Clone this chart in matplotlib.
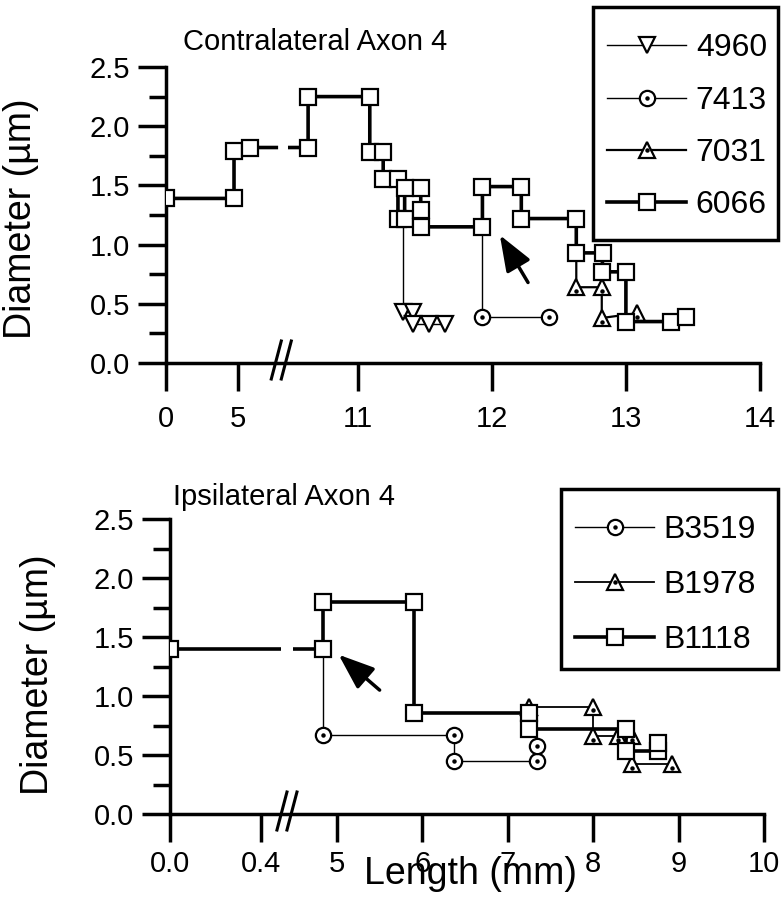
import numpy as np
import matplotlib
matplotlib.use("Agg")
import matplotlib.pyplot as plt
from matplotlib.lines import Line2D
from matplotlib.patches import Rectangle

plt.rcParams['font.family'] = ['Liberation Sans', 'DejaVu Sans']

# ---------------- data: contralateral axon 4 ----------------
C6066_X = [0.0, 4.72, 4.72, 5.83, 10.63, 10.63, 11.09, 11.09, 11.19, 11.19, 11.30, 11.30,
           11.35, 11.35, 11.47, 11.47, 11.47, 11.93, 11.93, 12.22, 12.22, 12.63, 12.63,
           12.83, 12.82, 13.00, 13.00, 13.34, 13.45]
C6066_Y = [1.39, 1.39, 1.79, 1.82, 1.82, 2.25, 2.25, 1.78, 1.78, 1.55, 1.55, 1.22,
           1.22, 1.48, 1.48, 1.29, 1.15, 1.15, 1.49, 1.49, 1.22, 1.22, 0.93,
           0.93, 0.77, 0.77, 0.35, 0.35, 0.39]
C4960_X = [11.34, 11.34, 11.41, 11.41, 11.53, 11.65]
C4960_Y = [1.22, 0.43, 0.43, 0.33, 0.33, 0.33]
C7413_X = [11.93, 11.93, 12.43]
C7413_Y = [1.15, 0.39, 0.39]
C7031_X = [12.63, 12.63, 12.82, 12.82, 13.08]
C7031_Y = [0.93, 0.64, 0.64, 0.38, 0.42]

TOP_XTICKS = [0, 5, 11, 12, 13, 14]
TOP_XTICKLABELS = ['0', '5', '11', '12', '13', '14']

# ---------------- data: ipsilateral axon 4 ----------------
B1118_X = [0.0, 4.84, 4.84, 5.90, 5.90, 7.25, 7.25, 8.38, 8.38, 8.76, 8.76]
B1118_Y = [1.40, 1.40, 1.80, 1.80, 0.86, 0.86, 0.72, 0.72, 0.53, 0.53, 0.60]
B3519_X = [4.84, 4.84, 6.37, 6.37, 7.34, 7.34]
B3519_Y = [1.40, 0.67, 0.67, 0.45, 0.45, 0.58]
B1978_X = [7.25, 8.00, 8.00, 8.29, 8.45, 8.45, 8.92]
B1978_Y = [0.91, 0.91, 0.66, 0.66, 0.66, 0.42, 0.42]

BOT_XTICKS = [0, 0.4, 5, 6, 7, 8, 9, 10]
BOT_XTICKLABELS = ['0.0', '0.4', '5', '6', '7', '8', '9', '10']

YTICKS = [0.0, 0.5, 1.0, 1.5, 2.0, 2.5]
YTICKLABELS = ['0.0', '0.5', '1.0', '1.5', '2.0', '2.5']

# ---------------- layout ----------------
W, H = 782, 900
fig = plt.figure(figsize=(W / 100, H / 100), dpi=100)


def axrect(l, r, t, b):
    return [l / W, 1 - b / H, (r - l) / W, (b - t) / H]


def break_scale(brk_lo, brk_hi, s_lo, s_hi):
    u_lo = brk_lo * s_lo
    xd = np.array([-100.0, 0.0, brk_lo, brk_hi, brk_hi + 100.0])
    xu = np.array([-100.0 * s_lo, 0.0, u_lo, u_lo + 1e-3, u_lo + 1e-3 + 100.0 * s_hi])

    def fwd(x):
        return np.interp(x, xd, xu)

    def inv(u):
        return np.interp(u, xu, xd)
    return fwd, inv


def with_gap(xs, ys, g_lo, g_hi):
    ox, oy = [xs[0]], [ys[0]]
    for i in range(1, len(xs)):
        if xs[i - 1] < g_lo and xs[i] > g_hi:
            ox += [g_lo, np.nan, g_hi]
            oy += [ys[i - 1], np.nan, ys[i]]
        ox.append(xs[i])
        oy.append(ys[i])
    return ox, oy


SPINE_LW = 2.5
TICK_FS = 21


def style_axes(ax, xticks, xlabels):
    for s in ['top', 'right']:
        ax.spines[s].set_visible(False)
    for s in ['left', 'bottom']:
        ax.spines[s].set_linewidth(SPINE_LW)
    ax.set_ylim(0, 2.5)
    ax.set_yticks(YTICKS)
    ax.set_yticklabels(YTICKLABELS)
    ax.set_yticks(np.arange(0.25, 2.5, 0.5), minor=True)
    ax.set_xticks(xticks)
    ax.set_xticklabels(xlabels)
    ax.tick_params(axis='y', which='major', direction='out', length=20, width=2.5,
                   labelsize=TICK_FS, pad=6)
    ax.tick_params(axis='y', which='minor', direction='out', length=12, width=2.5)
    ax.tick_params(axis='x', which='major', direction='out', length=20, width=2.5,
                   labelsize=TICK_FS, pad=10)
    ax.tick_params(axis='x', which='minor', bottom=False)


def draw_break(ax, xb):
    ax.figure.canvas.draw()
    px = ax.transData.transform((xb, 0))
    for dx in (-5, 5):
        xs = [px[0] + dx - 5, px[0] + dx + 5]
        ys = [px[1] - 16, px[1] + 22]
        fig.add_artist(Line2D(xs, ys, transform=None, color='black', lw=2.2))


MS_SQ = 11
MS_TRI = 12
MS_CIR = 11


def series(ax, xs, ys, marker, lw, ms, dot, skip_first, gap, z):
    lx, ly = with_gap(xs, ys, *gap)
    ax.plot(lx, ly, color='black', lw=lw, zorder=z, solid_capstyle='butt')
    mx, my = (xs[1:], ys[1:]) if skip_first else (xs, ys)
    ax.plot(mx, my, ls='none', marker=marker, ms=ms, mfc='white', mec='black',
            mew=1.6, zorder=z + 0.5)
    if dot:
        dy = 0.03 if marker == '^' else 0.0
        ax.plot(mx, np.array(my) - dy, ls='none', marker='o', ms=2.2, color='black',
                zorder=z + 0.6)


def legend_handle(marker, lw, ms, dot):
    h = Line2D([], [], color='black', lw=lw, marker=marker, ms=ms, mfc='white',
               mec='black', mew=1.6)
    if dot:
        d = Line2D([], [], ls='none', marker='o', ms=2.2, color='black')
        return (h, d)
    return h


def legend_box(l, r, t, b):
    fig.add_artist(Rectangle((l / W, 1 - b / H), (r - l) / W, (b - t) / H,
                             transform=fig.transFigure, fill=False, ec='black', lw=2.5))


LEG_KW = dict(loc='upper left', borderaxespad=0, fontsize=23, frameon=False,
              borderpad=0.45, handlelength=2.45, handletextpad=0.32, numpoints=1)

# ---------------- top panel ----------------
ax1 = fig.add_axes(axrect(166, 760, 67, 363))
fwd1, inv1 = break_scale(8.0, 10.43, 14.4, 134.0)
ax1.set_xscale('function', functions=(fwd1, inv1))
ax1.set_xlim(0, 14)
style_axes(ax1, TOP_XTICKS, TOP_XTICKLABELS)
gap1 = (7.78, 10.48)
series(ax1, C4960_X, C4960_Y, 'v', 1.0, MS_TRI, False, True, gap1, 3)
series(ax1, C7413_X, C7413_Y, 'o', 1.0, MS_CIR, True, True, gap1, 3)
series(ax1, C7031_X, C7031_Y, '^', 1.6, MS_TRI, True, True, gap1, 4)
series(ax1, C6066_X, C6066_Y, 's', 2.6, MS_SQ, False, False, gap1, 5)
ax1.annotate('', xy=(12.06, 1.08), xytext=(12.27, 0.68),
             arrowprops=dict(arrowstyle='-|>,head_length=1.0,head_width=0.38',
                             color='black', lw=2.5, mutation_scale=22, shrinkA=0, shrinkB=0))
fig.text(21 / W, 1 - 219 / H, 'Diameter (µm)', fontsize=27, rotation=90,
         ha='center', va='center')
fig.text(315 / W, 1 - 42 / H, 'Contralateral Axon 4', fontsize=21, ha='center', va='center')

leg1 = ax1.legend(
    [legend_handle('v', 1.0, MS_TRI, False), legend_handle('o', 1.0, MS_CIR, True),
     legend_handle('^', 1.6, MS_TRI, True), legend_handle('s', 2.6, MS_SQ, False)],
    ['4960', '7413', '7031', '6066'], labelspacing=0.7,
    bbox_to_anchor=(593 / W, 1 - 19 / H), bbox_transform=fig.transFigure, **LEG_KW)
legend_box(593, 778, 7, 240)

# ---------------- bottom panel ----------------
ax2 = fig.add_axes(axrect(170, 764, 519, 814))
fwd2, inv2 = break_scale(0.514, 4.415, 227.5, 85.4)
ax2.set_xscale('function', functions=(fwd2, inv2))
ax2.set_xlim(0, 10)
style_axes(ax2, BOT_XTICKS, BOT_XTICKLABELS)
ax2.tick_params(axis='x', which='major', pad=6)
gap2 = (0.49, 4.48)
series(ax2, B3519_X, B3519_Y, 'o', 1.0, MS_CIR, True, True, gap2, 3)
series(ax2, B1978_X, B1978_Y, '^', 1.3, MS_TRI, True, False, gap2, 4)
series(ax2, B1118_X, B1118_Y, 's', 2.6, MS_SQ, False, False, gap2, 5)
ax2.annotate('', xy=(5.02, 1.35), xytext=(5.5, 1.05),
             arrowprops=dict(arrowstyle='-|>,head_length=1.0,head_width=0.38',
                             color='black', lw=2.5, mutation_scale=22, shrinkA=0, shrinkB=0))
fig.text(38 / W, 1 - 675 / H, 'Diameter (µm)', fontsize=27, rotation=90,
         ha='center', va='center')
fig.text(284 / W, 1 - 497 / H, 'Ipsilateral Axon 4', fontsize=21, ha='center', va='center')
fig.text(470 / W, 1 - 874 / H, 'Length (mm)', fontsize=27, ha='center', va='center')

leg2 = ax2.legend(
    [legend_handle('o', 1.0, MS_CIR, True), legend_handle('^', 1.3, MS_TRI, True),
     legend_handle('s', 2.6, MS_SQ, False)],
    ['B3519', 'B1978', 'B1118'], labelspacing=0.78,
    bbox_to_anchor=(561 / W, 1 - 501 / H), bbox_transform=fig.transFigure, **LEG_KW)
legend_box(561, 778, 489, 669)

draw_break(ax1, 9.2)
draw_break(ax2, 2.5)

fig.savefig('out.png', dpi=100)
